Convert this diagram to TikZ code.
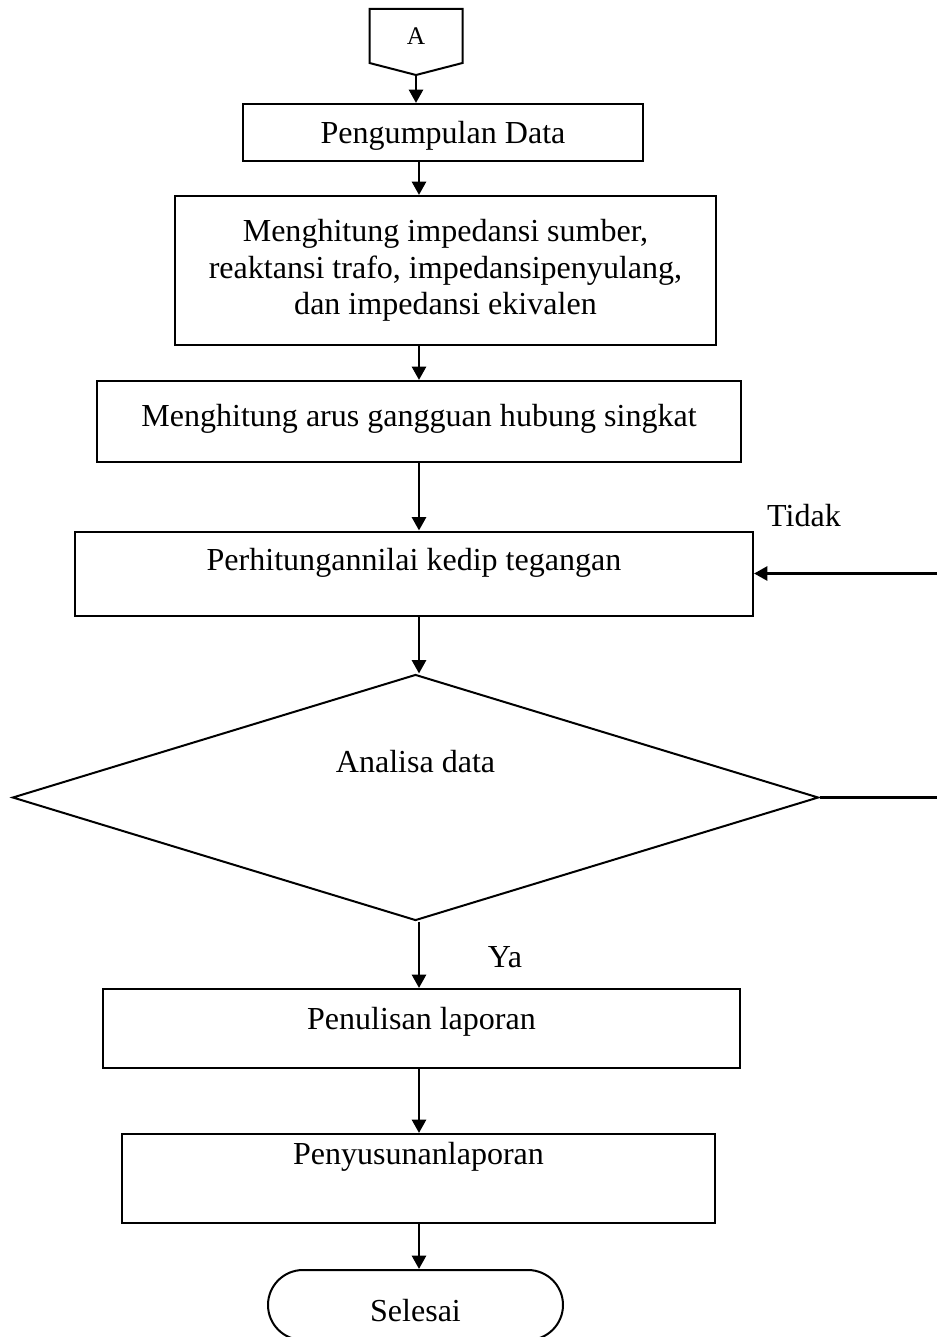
\documentclass[tikz,border=0pt]{standalone}
\usepackage{fontspec}
\setmainfont{Liberation Serif}
\usetikzlibrary{arrows.meta,shapes.geometric,shapes.misc}
\newlength\px
\setlength\px{0.3745pt}

\begin{document}
\begin{tikzpicture}[x=\px,y=-\px,
    box/.style={draw,line width=0.75pt,inner sep=0pt,font=\fontsize{12}{13.6}\selectfont},
    lift/.style={text height=8.5pt,text depth=#1},
    flow/.style={-{Triangle[length=5pt,width=5.2pt]},line width=1.1pt},
    lbl/.style={font=\fontsize{12}{13.6}\selectfont,inner sep=0pt}]
  \useasboundingbox (0,0) rectangle (937,1337);
  \coordinate (spine) at (419,0);
  \node[box,draw=none,minimum width=91\px,minimum height=52\px,font=\fontsize{9.5}{11}\selectfont] (A) at (416,36) {A};
  \draw[line width=0.75pt] (A.north west) -- (A.south west) -- ([yshift=-12\px]A.south) -- (A.south east) -- (A.north east) -- cycle;
  \coordinate (Atip) at ([yshift=-12\px]A.south);
  \node[box,lift=0pt,minimum width=400\px,minimum height=57\px] (data) at (443,132.5) {Pengumpulan Data};
  \node[box,align=center,minimum width=541\px,minimum height=149\px] (imp) at (445.5,270.5) {Menghitung impedansi sumber,\\reaktansi trafo, impedansipenyulang,\\dan impedansi ekivalen};
  \node[box,lift=4.9pt,minimum width=644\px,minimum height=81\px] (arus) at (419,421.5) {Menghitung arus gangguan hubung singkat};
  \node[box,lift=10.9pt,minimum width=678\px,minimum height=84\px] (perhit) at (414,573.5) {Perhitungannilai kedip tegangan};
  \node[box,lift=27.3pt,diamond,aspect=3.28,minimum width=806\px,minimum height=246\px] (analisa) at (415.5,797.5) {Analisa data};
  \node[box,lift=7.9pt,minimum width=637\px,minimum height=79\px] (tulis) at (421.5,1028.5) {Penulisan laporan};
  \node[box,lift=18.7pt,minimum width=593\px,minimum height=89\px] (susun) at (418.5,1178.5) {Penyusunanlaporan};
  \node[box,rounded rectangle,text height=14.7pt,text depth=2.5pt,minimum width=295\px,minimum height=70\px] (selesai) at (415.5,1305) {Selesai};
  \node[lbl] (tidak) at (804,516) {Tidak};
  \node[lbl] (ya) at (505,957) {Ya};
  \draw[flow] (Atip) -- (Atip |- data.north);
  \foreach \a/\b in {data/imp,imp/arus,arus/perhit,perhit/analisa,analisa/tulis,tulis/susun,susun/selesai}
    \draw[flow] (spine |- \a.south) -- (spine |- \b.north);
  \draw[flow] (analisa.east) -- ++(150,0) |- (perhit.east);
\end{tikzpicture}
\end{document}
